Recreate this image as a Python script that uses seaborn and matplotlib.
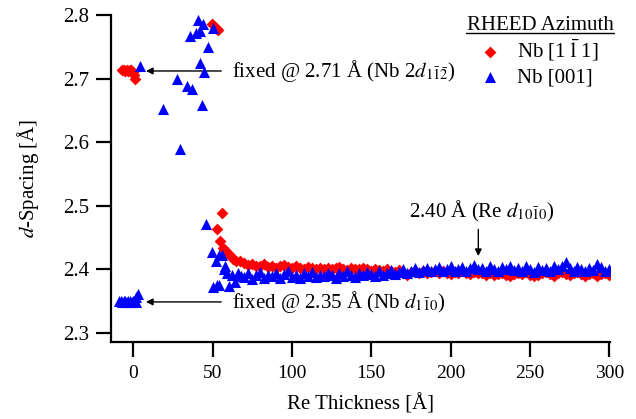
import numpy as np
import pandas as pd
import matplotlib
matplotlib.use("Agg")
import matplotlib.pyplot as plt
import seaborn as sns
from matplotlib.lines import Line2D

# ---------------- data ----------------
# Nb [1-11] (red diamonds)
red_x_fixed = [-7, -6, -5, -4, -3, -2, -1, 0, -1.5, 0.5, 1.0]
red_y_fixed = [2.713, 2.713, 2.712, 2.713, 2.712, 2.713, 2.711, 2.711, 2.714, 2.705, 2.700]
red_x_high = [49.6, 50.5, 52.5, 53.6]
red_y_high = [2.786, 2.784, 2.778, 2.776]
red_x_trans = [53, 54.4, 55.8, 56.9, 58, 59, 61, 63, 65, 67.4]
red_y_trans = [2.463, 2.445, 2.488, 2.434, 2.430, 2.426, 2.423, 2.416, 2.414, 2.413]
red_x_flat = [70, 72.5, 75, 77.5, 80, 82.5, 85, 87.5, 90, 92.5,
              95, 97.5, 100, 102.5, 105, 107.5, 110, 112.5, 115, 117.5,
              120, 122.5, 125, 127.5, 130, 132.5, 135, 137.5, 140, 142.5,
              145, 147.5, 150, 152.5, 155, 157.5, 160, 162.5, 165, 167.5,
              170, 172.5, 175, 177.5, 180, 182.5, 185, 187.5, 190, 192.5,
              195, 197.5, 200, 202.5, 205, 207.5, 210, 212.5, 215, 217.5,
              220, 222.5, 225, 227.5, 230, 232.5, 235, 237.5, 240, 242.5,
              245, 247.5, 250, 252.5, 255, 257.5, 260, 262.5, 265, 267.5,
              270, 272.5, 275, 277.5, 280, 282.5, 285, 287.5, 290, 292.5,
              295, 297.5, 300]
red_y_flat = [2.410, 2.407, 2.409, 2.405, 2.406, 2.408, 2.404, 2.406, 2.403, 2.405,
              2.407, 2.404, 2.402, 2.405, 2.403, 2.401, 2.404, 2.402, 2.400, 2.403,
              2.401, 2.403, 2.400, 2.402, 2.404, 2.401, 2.399, 2.402, 2.400, 2.401,
              2.403, 2.400, 2.398, 2.401, 2.399, 2.397, 2.400, 2.398, 2.396, 2.399,
              2.394, 2.392, 2.396, 2.398, 2.395, 2.397, 2.394, 2.396, 2.398, 2.395,
              2.397, 2.395, 2.393, 2.396, 2.394, 2.397, 2.395, 2.393, 2.396, 2.394,
              2.395, 2.392, 2.394, 2.391, 2.393, 2.395, 2.392, 2.390, 2.393, 2.395,
              2.393, 2.396, 2.391, 2.389, 2.392, 2.394, 2.396, 2.393, 2.390, 2.394,
              2.396, 2.393, 2.391, 2.394, 2.396, 2.393, 2.390, 2.393, 2.395, 2.389,
              2.393, 2.395, 2.392]

# Nb [001] (blue triangles)
blue_x_fixed = [-9, -8, -7, -6, -5, -4, -3, -2, -1, 0, 1, 2, 2.8, 1.5]
blue_y_fixed = [2.350, 2.350, 2.349, 2.350, 2.350, 2.349, 2.350, 2.350, 2.349, 2.350, 2.351, 2.356, 2.362, 2.349]
blue_x_scatter = [4.4, 19, 27.9, 29.8, 34, 35.5, 37, 39.7, 41, 41.8, 42.4, 43.4, 43.7, 44.7, 47, 50.4]
blue_y_scatter = [2.720, 2.652, 2.700, 2.589, 2.688, 2.767, 2.684, 2.771, 2.792, 2.724, 2.775, 2.659, 2.786, 2.710, 2.750, 2.780]
blue_x_trans = [46, 49.8, 50.4, 52.3, 52.7, 54, 54.3, 56, 57, 58, 59, 60.6, 62, 64, 66, 68]
blue_y_trans = [2.471, 2.427, 2.373, 2.414, 2.375, 2.376, 2.423, 2.422, 2.400, 2.405, 2.395, 2.374, 2.392, 2.381, 2.394, 2.389]
blue_x_flat = list(red_x_flat)
blue_y_flat = [2.388, 2.394, 2.385, 2.391, 2.396, 2.387, 2.392, 2.389, 2.395, 2.386,
               2.393, 2.398, 2.388, 2.391, 2.386, 2.394, 2.390, 2.396, 2.388, 2.392,
               2.389, 2.395, 2.391, 2.387, 2.394, 2.390, 2.397, 2.392, 2.388, 2.395,
               2.391, 2.396, 2.393, 2.389, 2.397, 2.392, 2.395, 2.399, 2.393, 2.396,
               2.400, 2.395, 2.398, 2.402, 2.396, 2.399, 2.403, 2.397, 2.400, 2.404,
               2.398, 2.401, 2.405, 2.397, 2.400, 2.404, 2.398, 2.402, 2.407, 2.400,
               2.403, 2.398, 2.405, 2.401, 2.397, 2.404, 2.400, 2.406, 2.399, 2.403,
               2.397, 2.405, 2.400, 2.396, 2.404, 2.399, 2.402, 2.398, 2.405, 2.401,
               2.406, 2.411, 2.403, 2.398, 2.404, 2.400, 2.397, 2.403, 2.399, 2.409,
               2.404, 2.398, 2.401]

series_labels = [r"Nb [1$\,\bar{1}\,$1]", "Nb [001]"]
x_ticks = [0, 50, 100, 150, 200, 250, 300]
y_ticks = [2.3, 2.4, 2.5, 2.6, 2.7, 2.8]

# ---------------- style ----------------
sns.set_style("ticks")
plt.rcParams["font.family"] = ["Liberation Serif", "DejaVu Serif"]
plt.rcParams["mathtext.fontset"] = "stix"
for key in ["text.color", "axes.labelcolor", "xtick.color", "ytick.color", "axes.edgecolor"]:
    plt.rcParams[key] = "black"

FS = 15

red_df = pd.DataFrame({
    "x": red_x_fixed + red_x_high + red_x_trans + red_x_flat,
    "y": red_y_fixed + red_y_high + red_y_trans + red_y_flat,
})
blue_df = pd.DataFrame({
    "x": blue_x_fixed + blue_x_scatter + blue_x_trans + blue_x_flat,
    "y": blue_y_fixed + blue_y_scatter + blue_y_trans + blue_y_flat,
})

fig = plt.figure(figsize=(6.36, 4.19), dpi=100)
ax = fig.add_axes([111 / 636, 1 - 342 / 419, (610 - 111) / 636, (342 - 15) / 419])

sns.scatterplot(data=red_df, x="x", y="y", ax=ax, marker="D", s=36,
                color="#ff0000", linewidth=0, label=series_labels[0], zorder=3)
sns.scatterplot(data=blue_df, x="x", y="y", ax=ax, marker="^", s=64,
                color="#0000ff", linewidth=0, label=series_labels[1], zorder=4)

ax.set_xlim(-14, 300.5)
ax.set_ylim(2.286, 2.8)
ax.set_xticks(x_ticks)
ax.set_yticks(y_ticks)
ax.set_yticklabels([f"{v:.1f}" for v in y_ticks])
for side in ["top", "right"]:
    ax.spines[side].set_visible(False)
for side in ["left", "bottom"]:
    ax.spines[side].set_linewidth(1.6)
ax.tick_params(axis="both", direction="out", length=10.5, width=1.6, colors="black")
ax.tick_params(axis="x", labelsize=14, pad=6)
ax.tick_params(axis="y", labelsize=FS, pad=5)

ax.set_xlabel("Re Thickness [Å]", fontsize=FS, labelpad=9)
ax.set_ylabel(r"$d$-Spacing [Å]", fontsize=FS, labelpad=16)

# annotations
arrowprops = dict(arrowstyle="-|>", color="black", lw=1.0, mutation_scale=10,
                  shrinkA=0, shrinkB=0)
ax.annotate("", xy=(8.0, 2.712), xytext=(55.5, 2.712), arrowprops=arrowprops)
ax.text(62, 2.712, r"fixed @ 2.71 Å (Nb 2$d_{1\bar{1}\bar{2}}$)", fontsize=FS,
        va="center", ha="left")
ax.annotate("", xy=(8.0, 2.349), xytext=(55.5, 2.349), arrowprops=arrowprops)
ax.text(62, 2.349, r"fixed @ 2.35 Å (Nb $d_{1\bar{1}0}$)", fontsize=FS,
        va="center", ha="left")
ax.annotate("", xy=(217.5, 2.421), xytext=(217.5, 2.463), arrowprops=arrowprops)
ax.text(220, 2.472, r"2.40 Å (Re $d_{10\bar{1}0}$)", fontsize=FS,
        va="bottom", ha="center")

# legend
leg = ax.legend(loc="upper left", bbox_to_anchor=(472 / 636, 1 - 37 / 419),
                bbox_transform=fig.transFigure, frameon=False, fontsize=FS,
                borderpad=0, borderaxespad=0, handletextpad=0.45,
                labelspacing=0.25, handlelength=1.7)
fig.text(540 / 636, 1 - 30 / 419, "RHEED Azimuth", fontsize=FS,
         ha="center", va="baseline")
fig.add_artist(Line2D([466 / 636, 614 / 636], [1 - 33 / 419, 1 - 33 / 419],
                      transform=fig.transFigure, color="black", lw=1.0))

fig.savefig("out.png", dpi=100)
